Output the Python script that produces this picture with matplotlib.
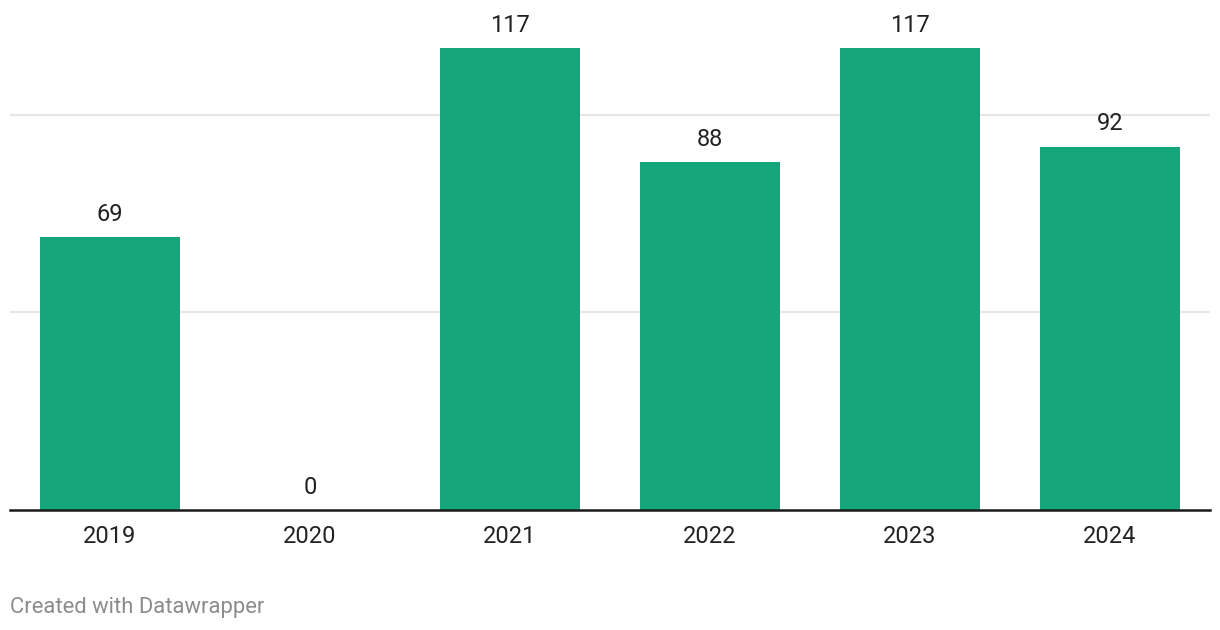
import matplotlib
matplotlib.use("Agg")
from matplotlib import pyplot as plt

years = ["2019", "2020", "2021", "2022", "2023", "2024"]
values = [69, 0, 117, 88, 117, 92]
gridlines = [50, 100]

plt.rcParams['font.family'] = ['Roboto', 'DejaVu Sans']

fig = plt.figure(figsize=(12.2, 6.3), dpi=100)
ax = fig.add_axes([10 / 1220, 1 - 510 / 630, 1200 / 1220, 510 / 630])

x = range(len(years))
ax.bar(x, values, width=0.7, color="#14a57a", zorder=2)

for g in gridlines:
    ax.axhline(g, color="#e6e6e6", linewidth=1.5, zorder=1)
ax.axhline(0, color="#1a1a1a", linewidth=1.8, zorder=3, clip_on=False)

for xi, v in zip(x, values):
    ax.annotate(str(v), (xi, v), xytext=(0, 8), textcoords="offset points",
                ha="center", va="bottom", fontsize=17, color="#222222")

ax.set_xlim(-0.5, len(years) - 0.5)
ax.set_ylim(0, 129.1)
ax.set_xticks(list(x))
ax.set_xticklabels(years, fontsize=17, color="#222222")
ax.tick_params(axis="x", length=0, pad=11)
ax.set_yticks([])
for s in ax.spines.values():
    s.set_visible(False)

fig.text(10 / 1220, 1 - 608 / 630, "Created with Datawrapper", fontsize=15.8,
         color="#8c8c8c", ha="left", va="center")

fig.savefig("out.png", dpi=100)
